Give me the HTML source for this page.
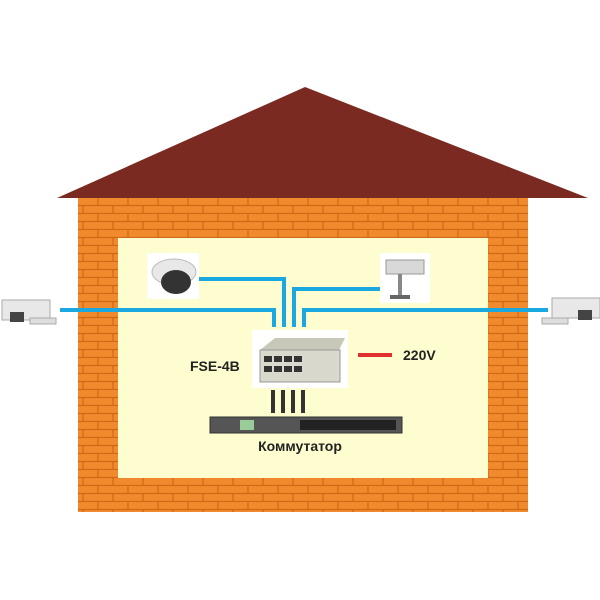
<!DOCTYPE html>
<html><head><meta charset="utf-8"><style>
body{margin:0;background:#fff}
svg{display:block}
text{font-family:"Liberation Sans",sans-serif;font-weight:bold}
</style></head><body>
<svg width="600" height="600" viewBox="0 0 600 600">
<defs>
<pattern id="br" width="30" height="16" patternUnits="userSpaceOnUse" x="78" y="198">
<rect width="30" height="16" fill="#f08a2c"/>
<path d="M0 7.5H30M0 15.5H30M20 0V8M5 8V16" stroke="#d06818" stroke-width="1.2"/>
</pattern>
</defs>
<polygon points="57,198 305,87 588,198" fill="#7b2a22"/>
<rect x="78" y="198" width="450" height="314" fill="url(#br)"/>
<rect x="118" y="238" width="370" height="240" fill="#fdfdd0"/>
<g stroke="#1aa8e0" stroke-width="4" fill="none">
<polyline points="60,310 274,310 274,327"/>
<polyline points="198,279 284,279 284,327"/>
<polyline points="380,289 294,289 294,327"/>
<polyline points="548,310 304,310 304,327"/>
</g>
<!-- dome cam -->
<rect x="147" y="253" width="52" height="46" fill="#fff"/>
<ellipse cx="174" cy="272" rx="22" ry="13" fill="#e8e8e8" stroke="#bbb"/>
<ellipse cx="176" cy="282" rx="15" ry="12" fill="#333"/>
<!-- box cam -->
<rect x="380" y="253" width="50" height="50" fill="#fff"/>
<rect x="386" y="260" width="38" height="14" fill="#d8d8d8" stroke="#999"/>
<rect x="398" y="274" width="4" height="22" fill="#888"/>
<rect x="390" y="295" width="20" height="4" fill="#666"/>
<!-- side cams -->
<rect x="2" y="300" width="48" height="20" fill="#e8e8e8" stroke="#aaa"/>
<rect x="10" y="312" width="14" height="10" fill="#444"/>
<rect x="30" y="318" width="26" height="6" fill="#ddd" stroke="#aaa"/>
<rect x="552" y="298" width="48" height="20" fill="#e8e8e8" stroke="#aaa"/>
<rect x="578" y="310" width="14" height="10" fill="#444"/>
<rect x="542" y="318" width="26" height="6" fill="#ddd" stroke="#aaa"/>
<!-- FSE -->
<rect x="252" y="330" width="96" height="58" fill="#fff"/>
<polygon points="260,350 275,338 345,338 338,352" fill="#c8c8b8"/>
<rect x="260" y="350" width="80" height="32" fill="#d8d8cc" stroke="#999"/>
<g fill="#333">
<rect x="264" y="356" width="8" height="6"/><rect x="274" y="356" width="8" height="6"/><rect x="284" y="356" width="8" height="6"/><rect x="294" y="356" width="8" height="6"/>
<rect x="264" y="366" width="8" height="6"/><rect x="274" y="366" width="8" height="6"/><rect x="284" y="366" width="8" height="6"/><rect x="294" y="366" width="8" height="6"/>
</g>
<g stroke="#333" stroke-width="4">
<line x1="273" y1="390" x2="273" y2="413"/><line x1="283" y1="390" x2="283" y2="413"/><line x1="293" y1="390" x2="293" y2="413"/><line x1="303" y1="390" x2="303" y2="413"/>
</g>
<line x1="358" y1="355" x2="392" y2="355" stroke="#e03030" stroke-width="4"/>
<!-- switch -->
<rect x="210" y="417" width="192" height="16" fill="#555" stroke="#333"/>
<rect x="300" y="420" width="96" height="10" fill="#222"/>
<rect x="240" y="420" width="14" height="10" fill="#9c9"/>
<text x="190" y="371" font-size="14" fill="#222">FSE-4B</text>
<text x="403" y="360" font-size="14" fill="#222">220V</text>
<text x="300" y="451" font-size="14" fill="#222" text-anchor="middle">Коммутатор</text>
</svg>
</body></html>
